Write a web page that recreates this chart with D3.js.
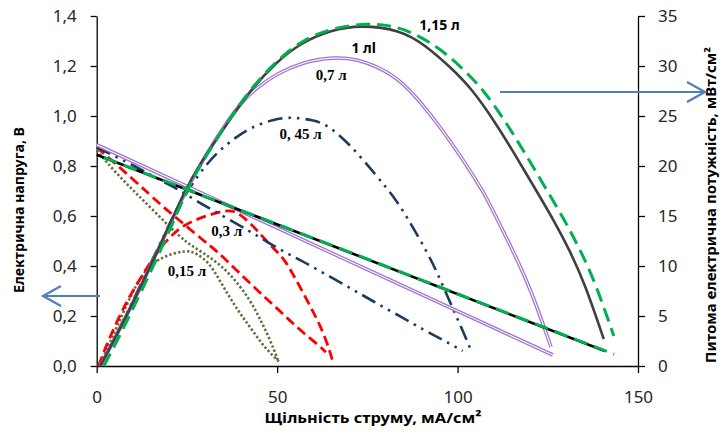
<!DOCTYPE html>
<html>
<head>
<meta charset="utf-8">
<script src="https://cdn.jsdelivr.net/npm/d3@7"></script>
<style>
  body { margin: 0; background: #fff; }
  svg  { display: block; }
  .tick text { font-family: "Noto Sans", sans-serif; font-size: 17px; fill: #262626; }
  .axis path, .axis line { stroke: #000; stroke-width: 1.3; }
  .title { font-family: "Noto Sans", sans-serif; font-weight: bold; fill: #000; }
  .tag   { font-family: "Liberation Serif", serif; font-weight: bold; font-size: 15px; fill: #000; }
</style>
</head>
<body>
<svg id="chart" width="722" height="432"></svg>
<script>
// tick values
const currentTicks = [ 0, 50, 100, 150 ];
const voltTicks    = [ 0, 0.2, 0.4, 0.6, 0.8, 1.0, 1.2, 1.4 ];
const powerTicks   = [ 0, 5, 10, 15, 20, 25, 30, 35 ];

// voltage curves, [current mA/cm2, volts]
const volt015 = [ [0,0.862],[5.4,0.771],[10.9,0.691],[16.5,0.611],[22.9,0.517],[26.7,0.477],[32,0.43],[37,0.37],[42.6,0.264],[45.4,0.184],[48.1,0.104],[50.4,0.017] ];
const volt03  = [ [0,0.875],[10.9,0.737],[18.3,0.637],[23.9,0.571],[29.4,0.504],[33.1,0.462],[38,0.394],[44.4,0.304],[49,0.244],[53.2,0.186],[57.4,0.131],[62,0.077],[63.5,0.055] ];
const volt045 = [ [0,0.875],[11,0.797],[18.3,0.737],[22,0.712],[27.6,0.66],[35,0.6],[42.6,0.537],[46.3,0.505],[51.8,0.457],[56.5,0.424],[62.9,0.371],[70.4,0.311],[76.8,0.257],[84.3,0.197],[90.7,0.144],[95,0.112],[101.4,0.06] ];
const volt07  = [ [0,0.885],[126.4,0.044] ];
const volt1   = [ [0,0.845],[140.6,0.061] ];
const volt115 = [ [2,0.834],[143.4,0.047] ];

// power curves, [current mA/cm2, mW/cm2]
const power015 = [ [0.5,0],[3.7,2.3],[10,7.6],[13.7,9.7],[18.3,11.0],[24.8,11.6],[27.6,11.3],[31.3,10.3],[34,8.6],[36.8,6.9],[39.6,5.3],[41.5,4.4],[44.4,2.9],[47.2,1.6],[50.9,0.3] ];
const power03  = [ [0.5,0],[3,2.4],[8,6.3],[12,8.7],[16.5,11.3],[20.2,12.9],[24,14.1],[30,15.0],[35,15.5],[38,15.6],[41,14.8],[44.4,13.6],[48,12.1],[51.8,10.8],[54.2,9.3],[56.5,7.8],[59.3,5.9],[61.6,4.3],[63.9,2.3],[65.3,0.6] ];
const power045 = [ [1,0],[6,3.5],[12,8.0],[18,12.6],[22,15.6],[27.6,18.9],[33,21.3],[38.7,22.9],[42.4,23.8],[49,24.7],[54,24.9],[60,24.6],[64,24.1],[70.4,22.1],[77.8,18.9],[82.4,16.9],[86,14.9],[91.7,11.3],[94.4,9.3],[98,6.3],[101,3.9],[103.7,1.6] ];
const power07  = [ [1,0],[6,3.4],[11.8,7.6],[18.3,12.6],[24.5,17.4],[30,21],[36.8,24.8],[40.6,26.6],[45,28.0],[49.8,29.2],[57,30.4],[65.7,30.9],[72,30.7],[78,29.9],[84.3,28.6],[91.7,25.6],[100,21.5],[107.4,17.3],[109.7,15.6],[115,11.8],[120.4,7.6],[125.9,1.9] ];
const power1   = [ [1,0],[6,3.4],[11.8,7.6],[18.3,12.6],[24.5,17.6],[28.7,20.3],[36.8,24.6],[42.6,27.6],[49.8,30.4],[56.5,32.3],[65,33.6],[73,34.1],[84.3,33.6],[91,32.1],[98,29.9],[104,27.7],[110,24.6],[115,21.7],[120.4,18.4],[126.8,14.5],[131,11.6],[135.2,8.3],[140.5,2.7] ];
const power115 = [ [2,0],[6.5,3.1],[12.3,7.4],[18.8,12.4],[25,17.6],[29,20.3],[36.8,24.7],[42.6,27.7],[49.8,30.5],[56.5,32.5],[65,33.8],[75,34.3],[84,34.0],[94,32.1],[101,29.9],[107,27.7],[113,24.6],[118,21.7],[123.4,18.4],[129.8,14.5],[134,11.6],[138.2,8.3],[143.3,3.0] ];

// series labels
const tagNames = [ '1,15 л', '1 лl', '0,7 л', '0, 45 л', '0,3 л', '0,15 л' ];
const tagSpots = [ [95,34.2], [74,31.9], [65,29.1], [56.5,23.2], [36,13.5], [25,9.5] ];

const width  = 722;
const height = 432;
const margin = { top: 16, right: 84, bottom: 66, left: 96.7 };

const svg = d3.select('#chart');

const x  = d3.scaleLinear().domain([0, 150]).range([margin.left, width - margin.right]);
const yV = d3.scaleLinear().domain([0, 1.4]).range([height - margin.bottom, margin.top]);
const yP = d3.scaleLinear().domain([0, 35]).range([height - margin.bottom, margin.top]);

const comma = d3.formatLocale({ decimal: ',', thousands: ' ', grouping: [3], currency: ['', ''] });

// axes
svg.append('g').attr('class', 'axis')
  .attr('transform', `translate(0,${yV(0)})`)
  .call(d3.axisBottom(x).tickValues(currentTicks).tickSize(7).tickPadding(22).tickSizeOuter(0))
  .call(g => g.selectAll('.tick text').attr('dy', '0.32em').attr('y', 32));

svg.append('g').attr('class', 'axis')
  .attr('transform', `translate(${x(0)},0)`)
  .call(d3.axisLeft(yV).tickValues(voltTicks).tickFormat(comma.format('.1f')).tickSize(6).tickPadding(14).tickSizeOuter(0));

svg.append('g').attr('class', 'axis')
  .attr('transform', `translate(${x(150)},0)`)
  .call(d3.axisRight(yP).tickValues(powerTicks).tickSize(7).tickPadding(13).tickSizeOuter(0));

// axis titles
svg.append('text').attr('class', 'title')
  .attr('x', 373).attr('y', 423).attr('text-anchor', 'middle')
  .attr('font-size', 15).attr('textLength', 217).attr('lengthAdjust', 'spacingAndGlyphs')
  .text('Щільність струму, мА/см²');
svg.append('text').attr('class', 'title')
  .attr('transform', 'translate(24,210) rotate(-90)').attr('text-anchor', 'middle')
  .attr('font-size', 14).attr('textLength', 166).attr('lengthAdjust', 'spacingAndGlyphs')
  .text('Електрична напруга, В');
svg.append('text').attr('class', 'title')
  .attr('transform', 'translate(716,205) rotate(-90)').attr('text-anchor', 'middle')
  .attr('font-size', 13.5).attr('textLength', 316).attr('lengthAdjust', 'spacingAndGlyphs')
  .text('Питома електрична потужність, мВт/см²');

// line builders
const lineV = d3.line().x(d => x(d[0])).y(d => yV(d[1])).curve(d3.curveBasis);
const lineP = d3.line().x(d => x(d[0])).y(d => yP(d[1])).curve(d3.curveBasis);

const plot = svg.append('g').attr('fill', 'none');

function draw(data, gen, color, w, dash) {
  plot.append('path').datum(data).attr('d', gen)
    .attr('stroke', color).attr('stroke-width', w)
    .attr('stroke-dasharray', dash || null);
}
function drawDouble(data, gen) {
  draw(data, gen, '#9f72d2', 3.6);
  draw(data, gen, '#fff', 1.1);
}

const olive = '#5e7034', red = '#ff0000', navy = '#1c3b5f', green = '#00b050';

draw(volt015,  lineV, olive, 2.6, '2.3 2.2');
draw(power015, lineP, olive, 2.6, '2.3 2.2');
draw(volt03,   lineV, red,   2.8, '10 5');
draw(power03,  lineP, red,   2.8, '10 5');
draw(volt045,  lineV, navy,  2.6, '15 6 2.5 6 2.5 6');
draw(power045, lineP, navy,  2.6, '15 6 2.5 6 2.5 6');
drawDouble(volt07,  lineV);
drawDouble(power07, lineP);
draw(volt1,    lineV, '#000',    2.6);
draw(power1,   lineP, '#404040', 2.6);
draw(volt115,  lineV, green, 3, '14 7');
draw(power115, lineP, green, 3, '14 7');

// series tags
svg.selectAll('.tag').data(tagNames).enter().append('text')
  .attr('class', 'tag')
  .attr('x', (d, i) => x(tagSpots[i][0]))
  .attr('y', (d, i) => yP(tagSpots[i][1]))
  .attr('text-anchor', 'middle').attr('dominant-baseline', 'central')
  .style('font-family', (d, i) => i < 2 ? '"Noto Sans", sans-serif' : null)
  .style('font-size', (d, i) => i < 2 ? '14px' : null)
  .text(d => d);

// blue arrows pointing at the axes
const arrow = (x1, x2, y) => {
  const dir = x2 > x1 ? -1 : 1;
  svg.append('path')
    .attr('d', `M${x1},${y}H${x2}M${x2 + dir * 18},${y - 10}L${x2},${y}L${x2 + dir * 18},${y + 10}`)
    .attr('fill', 'none').attr('stroke', '#4f7fbd').attr('stroke-width', 2.2);
};
arrow(100, 43, 296);
arrow(500, 705, 92);
</script>
</body>
</html>
